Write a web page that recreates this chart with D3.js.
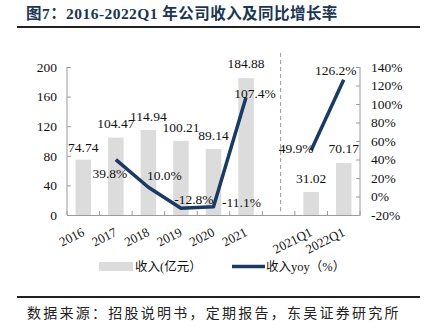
<!DOCTYPE html>
<html><head><meta charset="utf-8">
<script src="https://cdn.jsdelivr.net/npm/d3@7"></script>
<style>
body{margin:0;background:#fff;}
svg{display:block;}
</style></head>
<body>
<svg id="c" width="427" height="335"></svg>
<script>
const categories = ["2016","2017","2018","2019","2020","2021","","2021Q1","2022Q1"];
const revenue = [74.74,104.47,114.94,100.21,89.14,184.88,null,31.02,70.17];
const yoy = [null,39.8,10.0,-12.8,-11.1,107.4,null,49.9,126.2];
const leftTicks = [0,40,80,120,160,200];
const rightTicks = [-20,0,20,40,60,80,100,120,140];
const titleText = "图7：2016-2022Q1 年公司收入及同比增长率";
const sourceText = "数据来源：招股说明书，定期报告，东吴证券研究所";
const legendLabels = ["收入(亿元）","收入yoy（%）"];

const serif = "'Liberation Serif','Times New Roman','Noto Sans CJK SC',serif";
const cjk = "'Liberation Serif','Noto Sans CJK SC',sans-serif";
const barColor = "#dcdcdc", lineColor = "#1b3a63", axisColor = "#9a9a9a";

const svg = d3.select("#c");
const L = 67, R = 360, T = 67, B = 215;

// title
svg.append("text").attr("x",26).attr("y",19).attr("font-family",cjk)
  .attr("font-weight","bold").attr("font-size",15.5).attr("letter-spacing",0.45)
  .attr("fill","#1c3553").text(titleText);
svg.append("line").attr("x1",17).attr("x2",420).attr("y1",27).attr("y2",27)
  .attr("stroke","#222").attr("stroke-width",2);

const x = d3.scaleBand().domain(categories.map((d,i)=>i)).range([L,R]).paddingInner(0).paddingOuter(0);
const y = d3.scaleLinear().domain([0,200]).range([B,T]);
const y2 = d3.scaleLinear().domain([-20,140]).range([B,T]);
const bw = 15.5;

// bars
svg.append("g").selectAll("rect").data(revenue.map((v,i)=>({v,i})).filter(d=>d.v!=null))
  .join("rect").attr("x",d=>x(d.i)+x.bandwidth()/2-bw/2).attr("width",bw)
  .attr("y",d=>y(d.v)).attr("height",d=>y(0)-y(d.v)).attr("fill",barColor);

// axes
const gl = svg.append("g").attr("transform",`translate(${L},0)`)
  .call(d3.axisLeft(y).tickValues(leftTicks).tickSize(-4).tickPadding(10));
const gr = svg.append("g").attr("transform",`translate(${R},0)`)
  .call(d3.axisRight(y2).tickValues(rightTicks).tickSize(-4).tickPadding(11).tickFormat(d=>d+"%"));
const gb = svg.append("g").attr("transform",`translate(0,${B})`)
  .call(d3.axisBottom(x).tickValues([]).tickSizeOuter(0));
// category boundary ticks
const bounds = d3.range(categories.length+1).map(i=>L+i*x.bandwidth());
svg.append("g").selectAll("line").data(bounds).join("line")
  .attr("x1",d=>d).attr("x2",d=>d).attr("y1",B).attr("y2",B-4).attr("stroke",axisColor);
[gl,gr,gb].forEach(g=>{
  g.selectAll("path").attr("stroke",axisColor);
  g.selectAll("line").attr("stroke",axisColor);
  g.selectAll("text").attr("font-family",serif).attr("font-size",13.5).attr("fill","#111");
});
gl.select(".domain").attr("d",`M-0,${T}V${B}`);
gr.select(".domain").attr("d",`M0,${T}V${B}`);

// x labels
svg.append("g").selectAll("text").data(categories.map((c,i)=>({c,i})).filter(d=>d.c))
  .join("text").attr("font-family",serif).attr("font-size",13).attr("fill","#111")
  .attr("text-anchor","end")
  .attr("transform",d=>`translate(${x(d.i)+x.bandwidth()/2+2},${B+20}) rotate(-27)`)
  .text(d=>d.c);

// dashed separator
const sepX = x(6)+x.bandwidth()/2+2;
svg.append("line").attr("x1",sepX).attr("x2",sepX).attr("y1",53).attr("y2",B-2)
  .attr("stroke","#999").attr("stroke-dasharray","4,3").attr("stroke-width",1);

// lines
const lineGen = d3.line().x(d=>x(d.i)+x.bandwidth()/2).y(d=>y2(d.v));
const seg1 = yoy.map((v,i)=>({v,i})).filter(d=>d.v!=null && d.i<=5);
const seg2 = yoy.map((v,i)=>({v,i})).filter(d=>d.v!=null && d.i>=7);
[seg1,seg2].forEach(s=>svg.append("path").attr("d",lineGen(s)).attr("fill","none")
  .attr("stroke",lineColor).attr("stroke-width",3.5).attr("stroke-linejoin","round"));

// bar labels
const barLabelOffset = {0:[0,-8],1:[0,-10],2:[0,-9],3:[0,-9],4:[0,-9],5:[0,-10],7:[0,-9],8:[0,-10]};
svg.append("g").selectAll("text").data(revenue.map((v,i)=>({v,i})).filter(d=>d.v!=null))
  .join("text").attr("font-family",serif).attr("font-size",13.5).attr("fill","#111")
  .attr("text-anchor","middle")
  .attr("x",d=>x(d.i)+x.bandwidth()/2+barLabelOffset[d.i][0])
  .attr("y",d=>y(d.v)+barLabelOffset[d.i][1])
  .text(d=>d.v.toFixed(2));

// yoy labels (offsets relative to point)
const yoyOffset = {1:[-6,18],2:[16,-7],3:[13,-4],4:[28,0],5:[9,1],7:[-15,3],8:[-8,-5]};
svg.append("g").selectAll("text").data(yoy.map((v,i)=>({v,i})).filter(d=>d.v!=null))
  .join("text").attr("font-family",serif).attr("font-size",13.5).attr("fill","#111")
  .attr("text-anchor","middle")
  .attr("x",d=>x(d.i)+x.bandwidth()/2+yoyOffset[d.i][0])
  .attr("y",d=>y2(d.v)+yoyOffset[d.i][1])
  .text(d=>d.v.toFixed(1)+"%");

// legend
svg.append("rect").attr("x",99).attr("y",262).attr("width",34).attr("height",9).attr("fill",barColor);
svg.append("text").attr("x",135).attr("y",271).attr("font-family",cjk).attr("font-size",12.5)
  .attr("fill","#111").text(legendLabels[0]);
svg.append("line").attr("x1",232).attr("x2",265).attr("y1",266.5).attr("y2",266.5)
  .attr("stroke",lineColor).attr("stroke-width",3.5);
svg.append("text").attr("x",266).attr("y",271).attr("font-family",cjk).attr("font-size",12.5)
  .attr("fill","#111").text(legendLabels[1]);

// source
svg.append("line").attr("x1",17).attr("x2",420).attr("y1",297).attr("y2",297)
  .attr("stroke","#222").attr("stroke-width",2);
svg.append("text").attr("x",27).attr("y",318).attr("font-family",cjk).attr("font-size",14)
  .attr("letter-spacing",2.25).attr("fill","#222").text(sourceText);
</script>
</body></html>
